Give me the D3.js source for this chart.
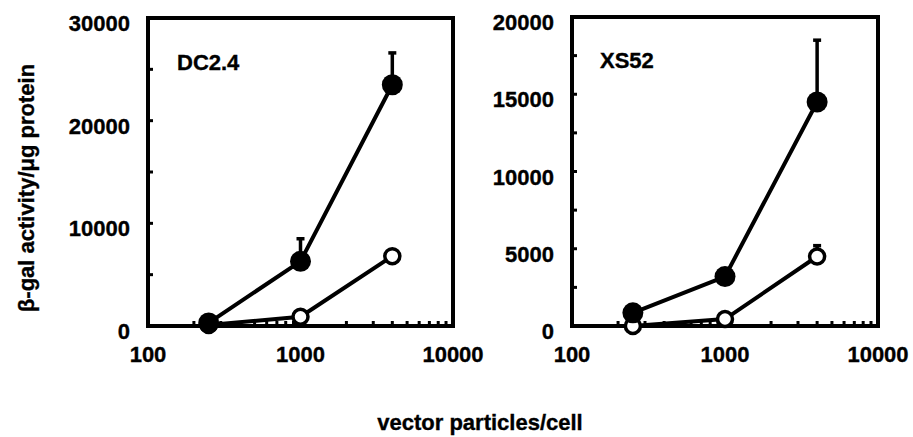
<!DOCTYPE html>
<html>
<head>
<meta charset="utf-8">
<script src="https://cdn.jsdelivr.net/npm/d3@7"></script>
<style>
  body { margin: 0; background: #fff; }
  text { font-family: "Liberation Sans", Arial, sans-serif; font-weight: bold; fill: #000; stroke: #000; stroke-width: 0.35; }
</style>
</head>
<body>
<svg width="913" height="437"></svg>
<script>
// dados
const doses = [250, 1000, 4000];

const dcFilled = [300, 6300, 23500];
const dcFilledErr = [0, 2200, 3100];
const dcOpen = [100, 900, 6800];

const xsFilled = [850, 3200, 14500];
const xsFilledErr = [150, 400, 4000];
const xsOpen = [0, 450, 4500];
const xsOpenErr = [0, 0, 700];

const xTicks = [100, 1000, 10000];
const dcYTicks = [0, 10000, 20000, 30000];
const xsYTicks = [0, 5000, 10000, 15000, 20000];

const svg = d3.select("svg");

const panels = [
    { name: "DC2.4", left: 148, right: 453, top: 18, bottom: 326, ymax: 30000, yTicks: dcYTicks, minorStep: 5000,
      filled: dcFilled, filledErr: dcFilledErr, open: dcOpen, openErr: [0, 0, 0], labelX: 177, labelY: 70 },
    { name: "XS52", left: 572, right: 878, top: 17, bottom: 326, ymax: 20000, yTicks: xsYTicks, minorStep: 2500,
      filled: xsFilled, filledErr: xsFilledErr, open: xsOpen, openErr: xsOpenErr, labelX: 600, labelY: 68 }
];

panels.forEach(p => drawPanel(p));

// Função para desenhar um painel
function drawPanel(p) {
    const x = d3.scaleLog().domain([100, 10000]).range([p.left, p.right]);
    const y = d3.scaleLinear().domain([0, p.ymax]).range([p.bottom, p.top]);
    const g = svg.append("g");

    // ticks internos do eixo x
    const minorX = [];
    [100, 1000].forEach(d => { for (let k = 2; k <= 9; k++) minorX.push(d * k); });
    g.selectAll(".xminor").data(minorX).enter().append("line")
        .attr("x1", d => x(d)).attr("x2", d => x(d))
        .attr("y1", p.bottom).attr("y2", p.bottom - 5)
        .attr("stroke", "#000").attr("stroke-width", 3);

    // ticks internos do eixo y
    const minorY = d3.range(0, p.ymax + 1, p.minorStep);
    g.selectAll(".yminor").data(minorY).enter().append("line")
        .attr("x1", p.left).attr("x2", p.left + 5)
        .attr("y1", d => y(d)).attr("y2", d => y(d))
        .attr("stroke", "#000").attr("stroke-width", 3);

    // moldura
    g.append("rect")
        .attr("x", p.left).attr("y", p.top)
        .attr("width", p.right - p.left).attr("height", p.bottom - p.top)
        .attr("fill", "none").attr("stroke", "#000").attr("stroke-width", 4);

    // rótulos dos eixos
    g.selectAll(".xl").data(xTicks).enter().append("text")
        .attr("x", d => x(d)).attr("y", p.bottom + 36)
        .attr("text-anchor", "middle").attr("font-size", 22)
        .text(d => d);
    g.selectAll(".yl").data(p.yTicks).enter().append("text")
        .attr("x", p.left - 18).attr("y", d => y(d) + 13)
        .attr("text-anchor", "end").attr("font-size", 22)
        .text(d => d);

    g.append("text")
        .attr("x", p.labelX).attr("y", p.labelY)
        .attr("font-size", 22)
        .text(p.name);

    const line = d3.line().x((d, i) => x(doses[i])).y(d => y(d));

    // barras de erro
    const errs = [];
    doses.forEach((d, i) => {
        if (p.filledErr[i] > 0) errs.push({ dose: d, v: p.filled[i], e: p.filledErr[i] });
        if (p.openErr[i] > 0) errs.push({ dose: d, v: p.open[i], e: p.openErr[i] });
    });
    g.selectAll(".err").data(errs).enter().append("line")
        .attr("x1", d => x(d.dose)).attr("x2", d => x(d.dose))
        .attr("y1", d => y(d.v)).attr("y2", d => y(d.v + d.e))
        .attr("stroke", "#000").attr("stroke-width", 3.5);
    g.selectAll(".cap").data(errs).enter().append("line")
        .attr("x1", d => x(d.dose) - 4).attr("x2", d => x(d.dose) + 4)
        .attr("y1", d => y(d.v + d.e)).attr("y2", d => y(d.v + d.e))
        .attr("stroke", "#000").attr("stroke-width", 3.5);

    // linhas
    g.append("path").datum(p.open).attr("d", line)
        .attr("fill", "none").attr("stroke", "#000").attr("stroke-width", 4);
    g.append("path").datum(p.filled).attr("d", line)
        .attr("fill", "none").attr("stroke", "#000").attr("stroke-width", 4);

    // marcadores
    g.selectAll(".open").data(p.open).enter().append("circle")
        .attr("cx", (d, i) => x(doses[i])).attr("cy", d => y(d))
        .attr("r", 7.5).attr("fill", "#fff").attr("stroke", "#000").attr("stroke-width", 3.5);
    g.selectAll(".filled").data(p.filled).enter().append("circle")
        .attr("cx", (d, i) => x(doses[i])).attr("cy", d => y(d))
        .attr("r", 10.5).attr("fill", "#000");
}

// títulos dos eixos
svg.append("text")
    .attr("transform", "translate(34,188) rotate(-90)")
    .attr("text-anchor", "middle").attr("font-size", 22)
    .text("β-gal activity/μg protein");
svg.append("text")
    .attr("x", 480).attr("y", 430)
    .attr("text-anchor", "middle").attr("font-size", 22)
    .text("vector particles/cell");
</script>
</body>
</html>
